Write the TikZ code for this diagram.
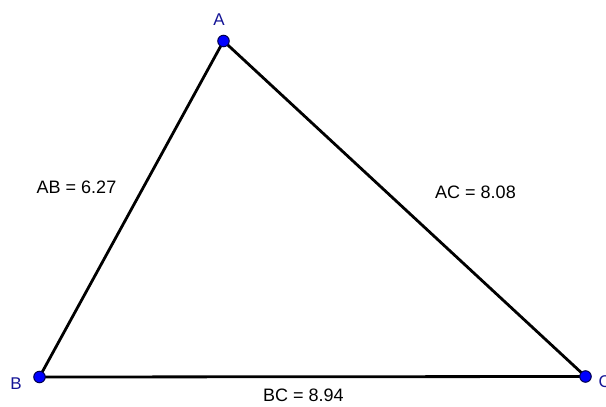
\documentclass[tikz,border=0pt]{standalone}
\usepackage{fontspec}
\setmainfont{Liberation Sans}
\definecolor{ptblue}{RGB}{0,0,255}
\definecolor{lblblue}{RGB}{20,20,150}

\begin{document}
\begin{tikzpicture}[x=1pt, y=-1pt,
    side/.style={line width=2.8pt, black},
    pt/.style={circle, fill=ptblue, draw=black!70!blue, line width=1pt, minimum size=11.5pt, inner sep=0pt},
    ptlabel/.style={text=lblblue, font=\fontsize{17}{17}\selectfont},
    measure/.style={font=\fontsize{18}{18}\selectfont}]
  \useasboundingbox (0,0) rectangle (606,407);
  % vertices
  \coordinate (A) at (223.5,41);
  \coordinate (B) at (39.5,377);
  \coordinate (C) at (585.5,376.5);
  % sides
  \draw[side] (A) -- (B) -- (C) -- cycle;
  \node[pt] (ptA) at (A) {};
  \node[pt] (ptB) at (B) {};
  \node[pt] (ptC) at (C) {};
  % point names
  \node[ptlabel] (labA) at (219,19.5) {A};
  \node[ptlabel] (labB) at (16,384) {B};
  \node[ptlabel, anchor=west, inner sep=0pt] (labC) at (598.5,382) {C};
  % side lengths
  \node[measure] (lenAB) at (76.5,187) {AB = 6.27};
  \node[measure] (lenAC) at (475.5,192) {AC = 8.08};
  \node[measure] (lenBC) at (303.5,395) {BC = 8.94};
\end{tikzpicture}
\end{document}
